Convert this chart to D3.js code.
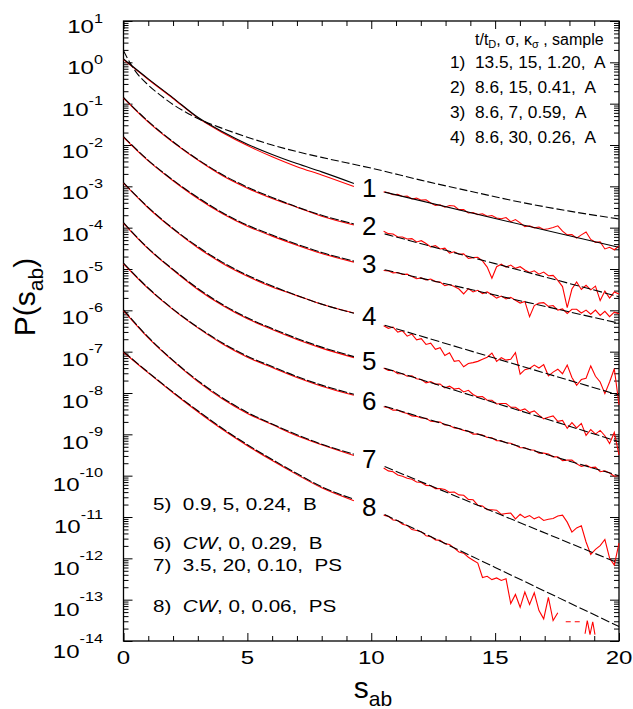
<!DOCTYPE html>
<html>
<head>
<meta charset="utf-8">
<script src="https://cdn.jsdelivr.net/npm/d3@7"></script>
<style>
  body { margin: 0; background: #fff; }
  svg text { font-family: "Liberation Sans", Arial, sans-serif; fill: #000; white-space: pre; }
</style>
</head>
<body>
<svg id="chart" width="633" height="709"></svg>
<script>
// ---- data (values are log10 P) ----

// left part of every curve, s = 0 .. 9.3
const sLeft = [0, 1, 2, 3, 4, 5, 6, 7, 8, 9.3];
const fitL1 = [0.08, -0.40, -0.86, -1.33, -1.68, -1.98, -2.23, -2.45, -2.65, -2.93];
const fitL2 = [-0.85, -1.43, -1.92, -2.35, -2.72, -3.02, -3.27, -3.50, -3.70, -3.91];
const fitL3 = [-1.80, -2.37, -2.85, -3.27, -3.64, -3.94, -4.18, -4.40, -4.60, -4.81];
const fitL4 = [-2.91, -3.51, -4.02, -4.46, -4.84, -5.15, -5.41, -5.64, -5.85, -6.07];
const fitL5 = [-3.88, -4.50, -5.01, -5.47, -5.86, -6.18, -6.44, -6.68, -6.89, -7.12];
const fitL6 = [-4.86, -5.46, -5.97, -6.41, -6.79, -7.11, -7.36, -7.60, -7.81, -8.03];
const fitL7 = [-5.99, -6.65, -7.21, -7.70, -8.12, -8.47, -8.75, -9.01, -9.24, -9.48];
const fitL8 = [-7.00, -7.50, -7.98, -8.43, -8.86, -9.25, -9.61, -9.95, -10.27, -10.57];

const redL1 = [0.08, -0.40, -0.86, -1.33, -1.69, -2.00, -2.27, -2.51, -2.71, -2.99];
const redL2 = [-0.85, -1.43, -1.92, -2.35, -2.73, -3.03, -3.28, -3.49, -3.71, -3.92];
const redL3 = [-1.80, -2.37, -2.85, -3.28, -3.65, -3.95, -4.19, -4.41, -4.61, -4.82];
const redL4 = [-2.91, -3.51, -4.02, -4.47, -4.85, -5.16, -5.42, -5.63, -5.84, -6.05];
const redL5 = [-3.88, -4.50, -5.01, -5.48, -5.87, -6.19, -6.45, -6.69, -6.90, -7.13];
const redL6 = [-4.86, -5.46, -5.97, -6.41, -6.80, -7.12, -7.37, -7.61, -7.82, -8.04];
const redL7 = [-5.99, -6.65, -7.21, -7.71, -8.13, -8.48, -8.75, -9.02, -9.24, -9.50];
const redL8 = [-7.00, -7.50, -7.98, -8.44, -8.87, -9.26, -9.62, -9.96, -10.28, -10.59];

// second (dashed) fit of curve 1, whole range
const sDash1 = [0, 0.25, 0.5, 1, 1.5, 2, 2.5, 3, 4, 5, 6, 7, 8, 9, 10, 12, 14, 16, 18, 20];
const dash1 = [0.28, 0.0, -0.23, -0.55, -0.80, -1.02, -1.20, -1.36, -1.60, -1.81, -2.00, -2.16,
               -2.30, -2.43, -2.56, -2.85, -3.12, -3.38, -3.60, -3.79];

// right part, fits
const sFitR = [10.54, 15, 20];
const fitR1 = [-3.14, -3.78, -4.475];
const fitR2 = [-4.15, -4.87, -5.67];
const fitR3 = [-5.02, -5.63, -6.31];
const fitR4 = [-6.36, -7.16, -8.05];
const fitR5 = [-7.40, -8.24, -9.18];
const fitR6 = [-8.32, -9.12, -10.00];
const fitR7 = [-9.78, -10.89, -12.12];
const fitR8 = [-10.94, -12.22, -13.65];

// right part, data (51 samples from s = 10.5 to 20)
const sRight = d3.range(51).map(i => 10.5 + 0.19 * i);
const redR1 = [-3.12,-3.14,-3.19,-3.18,-3.23,-3.22,-3.29,-3.27,-3.32,-3.31,
  -3.39,-3.45,-3.43,-3.49,-3.45,-3.46,-3.55,-3.55,-3.63,-3.62,
  -3.67,-3.65,-3.71,-3.69,-3.75,-3.77,-3.74,-3.84,-3.79,-3.87,
  -3.96,-3.94,-3.99,-3.97,-4.03,-4.01,-3.98,-3.94,-4.07,-4.16,
  -4.15,-4.24,-4.16,-4.09,-4.27,-4.34,-4.33,-4.50,-4.46,-4.52,-4.43];
const redR2 = [-4.07,-4.13,-4.14,-4.21,-4.21,-4.26,-4.25,-4.33,-4.30,-4.37,
  -4.45,-4.42,-4.50,-4.48,-4.60,-4.57,-4.63,-4.62,-4.73,-4.71,
  -4.70,-4.79,-4.94,-5.21,-4.93,-4.87,-4.94,-4.89,-4.97,-4.93,
  -5.01,-5.07,-5.03,-5.11,-5.06,-5.15,-5.14,-5.26,-5.41,-5.92,
  -5.47,-5.30,-5.48,-5.38,-5.49,-5.40,-5.75,-5.52,-5.69,-5.54,-5.59];
const redR3 = [-5.02,-5.03,-5.08,-5.07,-5.12,-5.11,-5.17,-5.22,-5.20,-5.25,
  -5.23,-5.29,-5.30,-5.39,-5.36,-5.41,-5.47,-5.59,-5.46,-5.54,
  -5.50,-5.58,-5.54,-5.61,-5.69,-5.64,-5.71,-5.67,-5.74,-5.81,
  -5.77,-6.14,-5.87,-5.81,-5.80,-5.89,-5.87,-5.98,-5.95,-6.06,
  -5.96,-5.96,-6.05,-5.98,-6.08,-5.98,-6.11,-6.01,-6.14,-6.03,-6.07];
const redR4 = [-6.36,-6.42,-6.39,-6.51,-6.48,-6.61,-6.56,-6.70,-6.67,-6.81,
  -6.78,-6.93,-6.89,-7.08,-7.01,-7.22,-7.20,-7.35,-7.27,-7.25,
  -7.22,-7.17,-7.12,-7.02,-7.22,-7.13,-7.19,-7.17,-7.01,-7.53,
  -7.42,-7.39,-7.31,-7.38,-7.30,-7.57,-7.48,-7.41,-7.52,-7.31,
  -7.61,-7.80,-7.66,-7.63,-7.33,-7.58,-7.72,-8.00,-7.72,-7.40,-8.27];
const redR5 = [-7.38,-7.44,-7.44,-7.52,-7.52,-7.58,-7.57,-7.64,-7.66,-7.74,
  -7.71,-7.77,-7.77,-7.86,-7.82,-7.89,-7.87,-7.96,-7.92,-8.02,
  -8.08,-8.07,-8.16,-8.16,-8.25,-8.24,-8.24,-8.33,-8.33,-8.41,
  -8.37,-8.46,-8.42,-8.52,-8.61,-8.57,-8.54,-8.67,-8.65,-8.84,
  -8.70,-8.83,-8.72,-9.01,-8.87,-8.98,-8.89,-9.02,-9.21,-8.94,-9.48];
const redR6 = [-8.32,-8.34,-8.40,-8.40,-8.45,-8.48,-8.54,-8.55,-8.59,-8.60,
  -8.67,-8.68,-8.69,-8.76,-8.77,-8.83,-8.85,-8.89,-8.91,-8.98,
  -8.98,-9.00,-9.06,-9.07,-9.14,-9.14,-9.19,-9.20,-9.25,-9.31,
  -9.31,-9.36,-9.37,-9.44,-9.44,-9.46,-9.53,-9.53,-9.62,-9.61,
  -9.61,-9.70,-9.76,-9.73,-9.79,-9.78,-9.89,-9.87,-9.92,-10.00,-9.98];
const redR7 = [-9.80,-9.87,-9.89,-9.97,-10.00,-10.05,-10.07,-10.14,-10.15,-10.22,
  -10.23,-10.30,-10.30,-10.32,-10.39,-10.38,-10.45,-10.46,-10.56,-10.57,
  -10.70,-10.72,-10.81,-10.81,-10.82,-10.92,-10.90,-10.89,-11.03,-10.92,
  -11.00,-10.95,-11.03,-10.98,-11.07,-11.04,-11.02,-10.96,-10.94,-11.11,
  -11.35,-11.25,-11.20,-11.59,-11.89,-11.77,-11.68,-11.53,-11.98,-12.15,-11.62];
const redR8 = [-10.94,-10.97,-11.06,-11.07,-11.16,-11.19,-11.29,-11.31,-11.34,-11.44,
  -11.46,-11.54,-11.55,-11.63,-11.65,-11.74,-11.83,-11.86,-11.96,-12.03,
  -12.10,-12.45,-12.42,-12.50,-12.46,-12.52,-12.48,-13.08,-12.86,-13.17,
  -12.80,-13.10,-12.82,-13.25,-13.45,-12.93,-13.49,-13.30];
// curve 8 beyond the last full sample
const sGap8 = [17.85, 18.5];
const gap8 = [-13.52, -13.52];
const sTail8 = [18.63, 18.72, 18.83, 18.94, 19.03];
const tail8 = [-13.81, -13.49, -13.83, -13.52, -13.83];

// curve numbers and where they sit (log10 P)
const curveNames = ['1', '2', '3', '4', '5', '6', '7', '8'];
const labelAt = [-3.25, -4.18, -5.10, -6.36, -7.44, -8.41, -9.82, -10.98];

// legend texts
const legendHead = 't/t';
const legendTop = ['1)  13.5, 15, 1.20,  A', '2)  8.6, 15, 0.41,  A', '3)  8.6, 7, 0.59,  A', '4)  8.6, 30, 0.26,  A'];
const legendBottom = [
  ['5)  ', '', '0.9, 5, 0.24,  B'],
  ['6)  ', 'CW', ', 0, 0.29,  B'],
  ['7)  ', '', '3.5, 20, 0.10,  PS'],
  ['8)  ', 'CW', ', 0, 0.06,  PS']
];
const xTickLabels = [0, 5, 10, 15, 20];

// ---- chart ----
const pLeft = 123.5, pRight = 619, pTop = 21, pBottom = 641;
const svg = d3.select('#chart');

const x = d3.scaleLinear().domain([0, 20]).range([pLeft, pRight]);
const y = d3.scaleLog().domain([1e-14, 10]).range([pBottom, pTop]);

const pairs = (s, v) => v.map((d, i) => [s[i], d]);
const smooth = d3.line()
  .x(d => x(d[0])).y(d => y(Math.pow(10, d[1])))
  .curve(d3.curveMonotoneX);
const jagged = d3.line()
  .x(d => x(d[0])).y(d => y(Math.pow(10, d[1])));

// ticks
const exps = d3.range(-14, 2);
const major = exps.map(e => Math.pow(10, e));
const minor = [];
exps.slice(0, -1).forEach(e => d3.range(2, 10).forEach(m => minor.push(m * Math.pow(10, e))));

function tickGroup(axis, tr) {
  const g = svg.append('g').attr('transform', tr).call(axis);
  g.select('.domain').remove();
  g.selectAll('line').attr('stroke', '#000').attr('stroke-width', 1);
  return g;
}
tickGroup(d3.axisLeft(y).tickValues(major).tickSize(-9).tickFormat(''), `translate(${pLeft},0)`);
tickGroup(d3.axisLeft(y).tickValues(minor).tickSize(-5).tickFormat(''), `translate(${pLeft},0)`);
tickGroup(d3.axisRight(y).tickValues(major).tickSize(-9).tickFormat(''), `translate(${pRight},0)`);
tickGroup(d3.axisRight(y).tickValues(minor).tickSize(-5).tickFormat(''), `translate(${pRight},0)`);
const xMajor = [0, 5, 10, 15, 20];
const xMinor = d3.range(0, 21).filter(d => d % 5 !== 0);
tickGroup(d3.axisBottom(x).tickValues(xMajor).tickSize(-8).tickFormat(''), `translate(0,${pBottom})`);
tickGroup(d3.axisBottom(x).tickValues(xMinor).tickSize(-5).tickFormat(''), `translate(0,${pBottom})`);
tickGroup(d3.axisTop(x).tickValues(xMajor).tickSize(-8).tickFormat(''), `translate(0,${pTop})`);
tickGroup(d3.axisTop(x).tickValues(xMinor).tickSize(-5).tickFormat(''), `translate(0,${pTop})`);

// frame
svg.append('rect')
  .attr('x', pLeft).attr('y', pTop)
  .attr('width', pRight - pLeft).attr('height', pBottom - pTop)
  .attr('fill', 'none').attr('stroke', '#000').attr('stroke-width', 1.3);

// tick labels (the figure's lettering is drawn wide)
svg.append('g').selectAll('text').data(xTickLabels).join('text')
  .attr('transform', d => `translate(${x(d)},663.5) scale(1.3,1)`)
  .attr('text-anchor', 'middle').attr('font-size', 18.5)
  .text(d => d);

const yl = svg.append('g').selectAll('text').data(exps).join('text')
  .attr('transform', e => `translate(103,${y(Math.pow(10, e)) + 11.5 + 0.36 * (1 - e)}) scale(1.3,1)`)
  .attr('text-anchor', 'end').attr('font-size', 18.5);
yl.append('tspan').text('10');
yl.append('tspan').attr('font-size', 12.5)
  .attr('dy', e => -(10 + 0.36 * (1 - e)))
  .text(e => e < 0 ? '-' + (-e) : String(e));

// data (red) under fits (black)
const red = svg.append('g').attr('transform', 'translate(0,0.6)')
  .attr('fill', 'none').attr('stroke', '#ff0000').attr('stroke-width', 1.1);
[redL1, redL2, redL3, redL4, redL5, redL6, redL7, redL8].forEach(v =>
  red.append('path').attr('d', smooth(pairs(sLeft, v))));
[redR1, redR2, redR3, redR4, redR5, redR6, redR7, redR8].forEach(v =>
  red.append('path').attr('d', jagged(pairs(sRight, v))));
red.append('path').attr('d', jagged(pairs(sGap8, gap8))).attr('stroke-dasharray', '5,4');
red.append('path').attr('d', jagged(pairs(sTail8, tail8)));

const fits = svg.append('g').attr('fill', 'none').attr('stroke', '#000').attr('stroke-width', 1.1);
fits.append('path').attr('d', smooth(pairs(sLeft, fitL1)));
fits.append('path').attr('d', smooth(pairs(sFitR, fitR1)));
fits.append('path').attr('d', smooth(pairs(sDash1, dash1))).attr('stroke-dasharray', '8,3');
[fitL2, fitL3, fitL4, fitL5, fitL6, fitL7, fitL8].forEach(v =>
  fits.append('path').attr('d', smooth(pairs(sLeft, v))).attr('stroke-dasharray', '9,2'));
[fitR2, fitR3, fitR4, fitR5, fitR6, fitR7, fitR8].forEach(v =>
  fits.append('path').attr('d', smooth(pairs(sFitR, v))).attr('stroke-dasharray', '9,3'));

// curve numbers
svg.append('g').selectAll('text').data(curveNames).join('text')
  .attr('x', x(9.92))
  .attr('y', (d, i) => y(Math.pow(10, labelAt[i])))
  .attr('text-anchor', 'middle').attr('font-size', 26)
  .text(d => d);

// legend, top right
const head = svg.append('text').attr('x', 475).attr('y', 44.5).attr('font-size', 16);
head.append('tspan').text(legendHead);
head.append('tspan').attr('font-size', 11).attr('dy', 3).text('D');
head.append('tspan').attr('dy', -3).text(', σ, κ');
head.append('tspan').attr('font-size', 11).attr('dy', 3).text('σ');
head.append('tspan').attr('dy', -3).text(' , sample');

svg.append('g').selectAll('text').data(legendTop).join('text')
  .attr('x', 450).attr('y', (d, i) => 67.5 + 25 * i)
  .attr('font-size', 17.3)
  .text(d => d);

// legend, bottom left
const bottomY = [510, 549, 571, 612];
const lb = svg.append('g').selectAll('text').data(legendBottom).join('text')
  .attr('transform', (d, i) => `translate(153,${bottomY[i]}) scale(1.25,1)`)
  .attr('font-size', 16.5);
lb.append('tspan').text(d => d[0]);
lb.append('tspan').attr('font-style', 'italic').text(d => d[1]);
lb.append('tspan').text(d => d[2]);

// axis titles
const xt = svg.append('text').attr('x', 373).attr('y', 698)
  .attr('text-anchor', 'middle').attr('font-size', 30);
xt.append('tspan').text('s');
xt.append('tspan').attr('font-size', 21).attr('dy', 8).text('ab');

const ytxt = svg.append('text')
  .attr('transform', 'translate(35,297) rotate(-90)')
  .attr('text-anchor', 'middle').attr('font-size', 30);
ytxt.append('tspan').text('P(s');
ytxt.append('tspan').attr('font-size', 21).attr('dy', 8).text('ab');
ytxt.append('tspan').attr('dy', -8).text(')');
</script>
</body>
</html>
